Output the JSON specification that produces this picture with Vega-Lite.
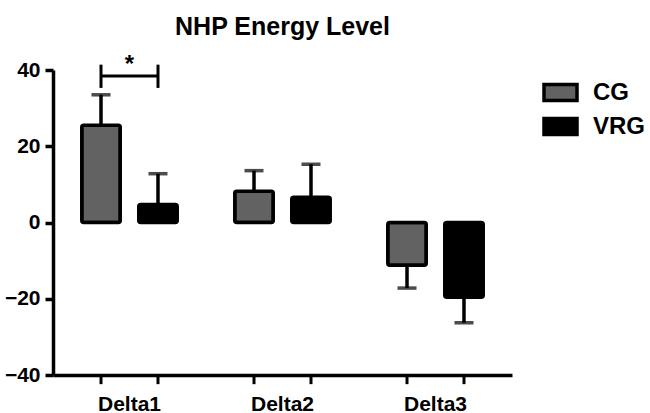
{
  "$schema": "https://vega.github.io/schema/vega-lite/v6.json",
  "autosize": "none",
  "width": 459,
  "height": 305,
  "padding": {"left": 53, "top": 70, "right": 138, "bottom": 38},
  "background": "white",
  "config": {
    "font": "Liberation Sans",
    "view": {"stroke": null},
    "axis": {"domainColor": "black", "tickColor": "black", "labelColor": "black", "grid": false}
  },
  "title": {"text": "NHP Energy Level", "fontSize": 25, "fontWeight": "bold", "color": "black", "anchor": "middle", "offset": 13},
  "datasets": {
    "bars": [
      {"group": "Delta1", "series": "CG", "value": 25.5, "err_end": 33.5},
      {"group": "Delta1", "series": "VRG", "value": 4.7, "err_end": 12.8},
      {"group": "Delta2", "series": "CG", "value": 8.2, "err_end": 13.6},
      {"group": "Delta2", "series": "VRG", "value": 6.6, "err_end": 15.3},
      {"group": "Delta3", "series": "CG", "value": -11.2, "err_end": -17.2},
      {"group": "Delta3", "series": "VRG", "value": -19.6, "err_end": -26.3}
    ],
    "bracket": [
      {"group": "Delta1", "series": "CG", "level": 38.4, "low": 35.3, "high": 41.4, "label": "*"},
      {"group": "Delta1", "series": "VRG", "level": 38.4, "low": 35.3, "high": 41.4, "label": "*"}
    ]
  },
  "encoding": {
    "x": {
      "field": "group", "type": "nominal",
      "scale": {"domain": ["Delta1", "Delta2", "Delta3"], "paddingInner": 0, "paddingOuter": 0},
      "axis": {"title": null, "labelAngle": 0, "ticks": false, "domainWidth": 3.5, "labelFontSize": 21, "labelFontWeight": "bold", "labelPadding": 18}
    }
  },
  "layer": [
    {
      "data": {"name": "bars"},
      "mark": {"type": "rule", "color": "black", "strokeWidth": 3.5},
      "encoding": {
        "xOffset": {"field": "series", "type": "nominal", "scale": {"domain": ["CG", "VRG"], "paddingInner": 0.325, "paddingOuter": 0.505}},
        "y": {
          "field": "value", "type": "quantitative",
          "scale": {"domain": [-40, 40], "nice": false},
          "axis": {"title": null, "values": [-40, -20, 0, 20, 40], "domainWidth": 3.5, "tickWidth": 3.5, "tickSize": 8, "labelFontSize": 21, "labelFontWeight": "bold", "labelPadding": 5}
        },
        "y2": {"field": "err_end"}
      }
    },
    {
      "data": {"name": "bars"},
      "mark": {"type": "tick", "color": "black", "thickness": 3.5, "size": 19},
      "encoding": {
        "xOffset": {"field": "series", "type": "nominal"},
        "y": {"field": "err_end", "type": "quantitative"}
      }
    },
    {
      "data": {"name": "bars"},
      "mark": {"type": "bar", "stroke": "black", "strokeWidth": 3.5, "cornerRadius": 2},
      "encoding": {
        "xOffset": {"field": "series", "type": "nominal"},
        "y": {"field": "value", "type": "quantitative"},
        "fill": {
          "field": "series", "type": "nominal",
          "scale": {"domain": ["CG", "VRG"], "range": ["#626262", "#000000"]},
          "legend": {
            "title": null, "orient": "right", "offset": 26, "padding": 4,
            "symbolType": "M-1,-0.48H1V0.48H-1Z", "symbolSize": 1089,
            "symbolStrokeColor": "black", "symbolStrokeWidth": 3.5,
            "labelFontSize": 24, "labelFontWeight": "bold", "labelColor": "black",
            "labelOffset": 14, "rowPadding": 0
          }
        }
      }
    },
    {
      "mark": {"type": "rule", "color": "black", "strokeWidth": 3.5},
      "encoding": {"y": {"datum": 0, "type": "quantitative"}}
    },
    {
      "data": {"name": "bars"},
      "mark": {"type": "rule", "color": "black", "strokeWidth": 3},
      "encoding": {
        "xOffset": {"field": "series", "type": "nominal"},
        "y": {"datum": -40, "type": "quantitative"},
        "y2": {"datum": -42.4}
      }
    },
    {
      "data": {"name": "bracket"},
      "mark": {"type": "rule", "color": "black", "strokeWidth": 3},
      "encoding": {
        "xOffset": {"field": "series", "type": "nominal"},
        "y": {"field": "low", "type": "quantitative"},
        "y2": {"field": "high"}
      }
    },
    {
      "data": {"name": "bracket"},
      "mark": {"type": "line", "color": "black", "strokeWidth": 3},
      "encoding": {
        "xOffset": {"field": "series", "type": "nominal"},
        "y": {"field": "level", "type": "quantitative"}
      }
    },
    {
      "data": {"name": "bracket"},
      "transform": [{"filter": "datum.series === 'CG'"}],
      "mark": {"type": "text", "fontSize": 24, "fontWeight": "bold", "color": "black", "baseline": "alphabetic"},
      "encoding": {
        "y": {"datum": 39.5, "type": "quantitative"},
        "text": {"field": "label"}
      }
    }
  ]
}
